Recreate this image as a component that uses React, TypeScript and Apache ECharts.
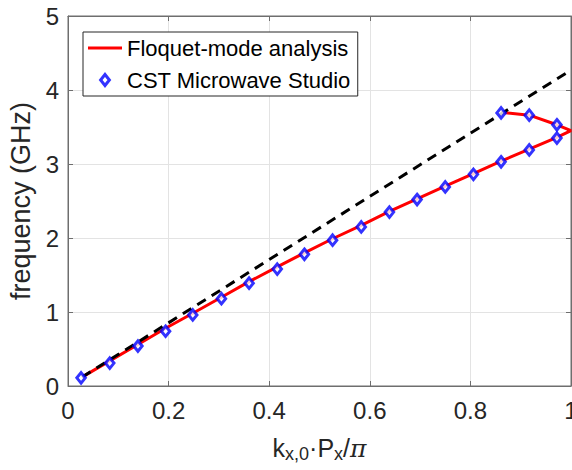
import React, { useEffect, useRef } from "react";
import * as echarts from "echarts";

// Floquet-mode analysis curve (lower branch then back along upper branch)
const floquetK = [0.028, 0.083, 0.139, 0.194, 0.25, 0.305, 0.36, 0.416, 0.47, 0.526, 0.583, 0.639, 0.694, 0.75, 0.806, 0.861, 0.917, 0.972, 1.0, 0.972, 0.917, 0.861];
const floquetF = [0.12, 0.34, 0.56, 0.78, 0.99, 1.2, 1.41, 1.61, 1.8, 1.99, 2.17, 2.36, 2.53, 2.7, 2.87, 3.04, 3.2, 3.36, 3.45, 3.53, 3.66, 3.7];

// CST Microwave Studio points
const cstK = [0.026, 0.083, 0.139, 0.194, 0.248, 0.305, 0.36, 0.416, 0.47, 0.526, 0.583, 0.639, 0.694, 0.75, 0.806, 0.861, 0.917, 0.972, 0.861, 0.917, 0.972];
const cstF = [0.11, 0.31, 0.54, 0.74, 0.96, 1.18, 1.39, 1.58, 1.78, 1.97, 2.15, 2.35, 2.52, 2.69, 2.86, 3.03, 3.19, 3.35, 3.69, 3.66, 3.53];

// Light line (dashed)
const lightK = [0.028, 1.0];
const lightF = [0.12, 4.27];

const xTicks = [0, 0.2, 0.4, 0.6, 0.8, 1];
const yTicks = [0, 1, 2, 3, 4, 5];

const FONT = "'Liberation Sans', Arial, Helvetica, sans-serif";
const TXT = "#262626";

export default function App() {
  const ref = useRef<HTMLDivElement>(null);
  useEffect(() => {
    if (!ref.current) return;
    const chart = echarts.init(ref.current, null, { renderer: "svg" });
    const floquet = floquetK.map((k, i) => [k, floquetF[i]]);
    const cst = cstK.map((k, i) => [k, cstF[i]]);
    const light = lightK.map((k, i) => [k, lightF[i]]);
    const axisCommon = {
      type: "value" as const,
      axisLine: { show: true, onZero: false, lineStyle: { color: "#6e6e6e", width: 1 } },
      axisTick: { show: true, inside: true, length: 5, lineStyle: { color: "#6e6e6e" } },
    };
    chart.setOption({
      animation: false,
      backgroundColor: "#fff",
      textStyle: { fontFamily: FONT },
      grid: {
        left: 68,
        right: 1,
        top: 16,
        bottom: 84,
        containLabel: false,
        outerBoundsMode: "none",
        show: true,
        borderColor: "#6e6e6e",
        borderWidth: 1,
      },
      legend: {
        left: 83,
        top: 32,
        orient: "vertical",
        padding: [3, 7, 3, 5],
        itemGap: 6,
        itemWidth: 34,
        itemHeight: 11,
        borderColor: "#262626",
        borderWidth: 1,
        backgroundColor: "#fff",
        textStyle: { fontSize: 22, color: "#000", lineHeight: 26, fontFamily: FONT },
        data: [
          { name: "Floquet-mode analysis", icon: "path://M0,0L34,0L34,3L0,3Z", itemStyle: { color: "#ff0000", borderWidth: 0 } },
          { name: "CST Microwave Studio", icon: "path://M4,0L8,5L4,10L0,5Z", itemStyle: { color: "#ffffff", borderColor: "#0000ff", borderWidth: 3 } },
        ],
      },
      xAxis: [
        {
          ...axisCommon,
          position: "bottom",
          min: xTicks[0],
          max: xTicks[xTicks.length - 1],
          interval: 0.2,
          axisLabel: { fontSize: 24, color: TXT, margin: 12, fontFamily: FONT, showMaxLabel: true },
          splitLine: { show: true, lineStyle: { color: "#e3e3e3", width: 1 } },
          name: "{m|k}{s|x,0}{m|·P}{s|x}{m|/}{p|π}",
          nameLocation: "middle",
          nameGap: 47,
          nameTextStyle: {
            color: TXT,
            fontSize: 25,
            fontFamily: FONT,
            rich: {
              m: { fontSize: 25, color: TXT, fontFamily: FONT, lineHeight: 30 },
              s: { fontSize: 18, color: TXT, fontFamily: FONT, lineHeight: 2, verticalAlign: "bottom" },
              p: { fontSize: 25, color: TXT, fontFamily: "'DejaVu Serif', serif", fontStyle: "italic", lineHeight: 30 },
            },
          },
        },
        {
          ...axisCommon,
          position: "top",
          min: xTicks[0],
          max: xTicks[xTicks.length - 1],
          interval: 0.2,
          axisLabel: { show: false },
          splitLine: { show: false },
        },
      ],
      yAxis: [
        {
          ...axisCommon,
          position: "left",
          min: yTicks[0],
          max: yTicks[yTicks.length - 1],
          interval: 1,
          axisLabel: { fontSize: 24, color: TXT, margin: 9, fontFamily: FONT },
          splitLine: { show: true, lineStyle: { color: "#e3e3e3", width: 1 } },
          name: "frequency (GHz)",
          nameLocation: "middle",
          nameGap: 26,
          nameTextStyle: { color: TXT, fontSize: 27, fontFamily: FONT },
        },
        {
          ...axisCommon,
          position: "right",
          min: yTicks[0],
          max: yTicks[yTicks.length - 1],
          interval: 1,
          axisLabel: { show: false },
          splitLine: { show: false },
        },
      ],
      series: [
        {
          name: "Floquet-mode analysis",
          type: "line",
          data: floquet,
          showSymbol: false,
          symbol: "none",
          lineStyle: { color: "#ff0000", width: 3 },
          itemStyle: { color: "#ff0000" },
          z: 2,
        },
        {
          name: "light line",
          type: "line",
          data: light,
          showSymbol: false,
          symbol: "none",
          lineStyle: { color: "#000000", width: 3, type: [10, 7] },
          z: 3,
        },
        {
          name: "CST Microwave Studio",
          type: "scatter",
          data: cst,
          symbol: "diamond",
          symbolSize: [8.5, 10.5],
          itemStyle: { color: "#ffffff", borderColor: "#0000ff", borderWidth: 3 },
          z: 4,
        },
      ],
    });
    return () => chart.dispose();
  }, []);
  return (
    <div style={{ position: "fixed", left: 0, top: 0, width: 572, height: 470, overflow: "hidden" }}>
      <div ref={ref} style={{ width: 572, height: 470 }} />
    </div>
  );
}
